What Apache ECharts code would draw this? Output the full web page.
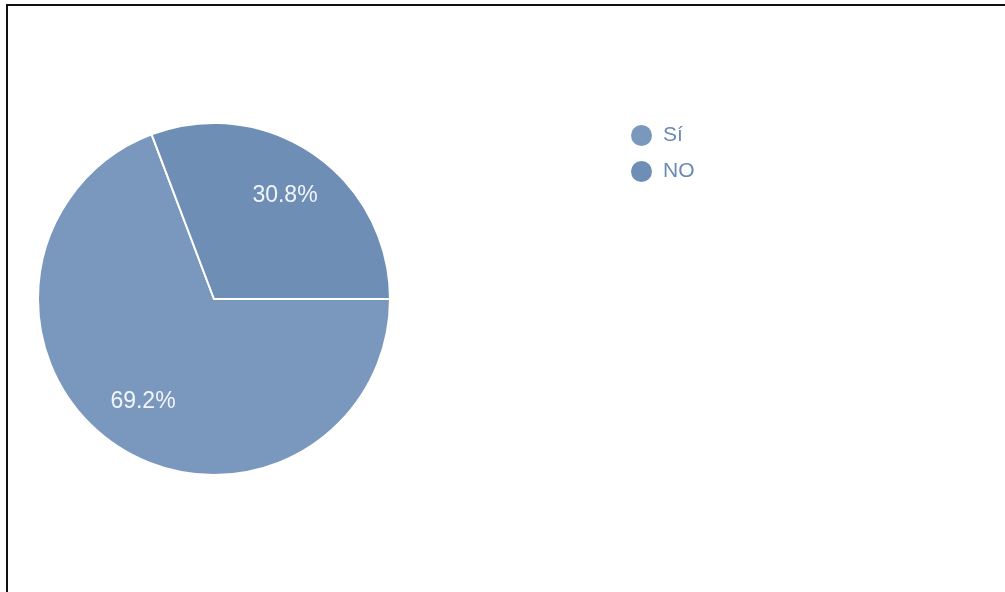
<!DOCTYPE html>
<html>
<head>
<meta charset="utf-8">
<script src="https://cdn.jsdelivr.net/npm/echarts@6/dist/echarts.min.js"></script>
<style>
  html, body { margin: 0; padding: 0; background: #fff; }
  #chart { position: absolute; left: 0; top: 0; width: 1005px; height: 592px; }
  #frame { position: absolute; left: 6px; top: 4px; width: 1010px; height: 600px;
           border-top: 2px solid #111; border-left: 2px solid #111; pointer-events: none; }
</style>
</head>
<body>
<div id="chart"></div>
<div id="frame"></div>
<script>
// Survey answers (counts)
const categories = ['Sí', 'NO'];
const counts = [9, 4];
const colors = ['#7a98bd', '#6e8eb6'];

const pieData = categories.map((name, i) => ({ name, value: counts[i] }));
const total = counts.reduce((a, b) => a + b, 0);
const pctLabel = p => (p.value / total * 100).toFixed(1) + '%';

const chart = echarts.init(document.getElementById('chart'), null, { renderer: 'canvas' });
chart.setOption({
  animation: false,
  color: colors,
  legend: {
    orient: 'vertical',
    left: 626,
    top: 120,
    icon: 'circle',
    itemWidth: 21,
    itemHeight: 21,
    itemGap: 15,
    itemStyle: { borderWidth: 0 },
    textStyle: {
      color: '#6a8ab4',
      fontFamily: 'Liberation Sans, Arial, sans-serif',
      fontSize: 21,
      padding: [0, 0, 0, 6]
    },
    data: categories
  },
  series: [
    {
      type: 'pie',
      center: [214, 299],
      radius: [0, 176],
      startAngle: 0,
      clockwise: true,
      label: { show: false },
      labelLine: { show: false },
      itemStyle: { borderColor: '#ffffff', borderWidth: 2 },
      emphasis: { scale: false },
      data: pieData
    },
    {
      // transparent companion ring that places the percentage labels
      type: 'pie',
      center: [214, 299],
      radius: [0, 244],
      startAngle: 0,
      clockwise: true,
      silent: true,
      itemStyle: { color: 'rgba(0,0,0,0)', borderWidth: 0 },
      label: {
        show: true,
        position: 'inside',
        formatter: pctLabel,
        color: '#f2f5f9',
        fontFamily: 'Liberation Sans, Arial, sans-serif',
        fontSize: 23
      },
      labelLine: { show: false },
      data: pieData
    }
  ]
});
</script>
</body>
</html>
